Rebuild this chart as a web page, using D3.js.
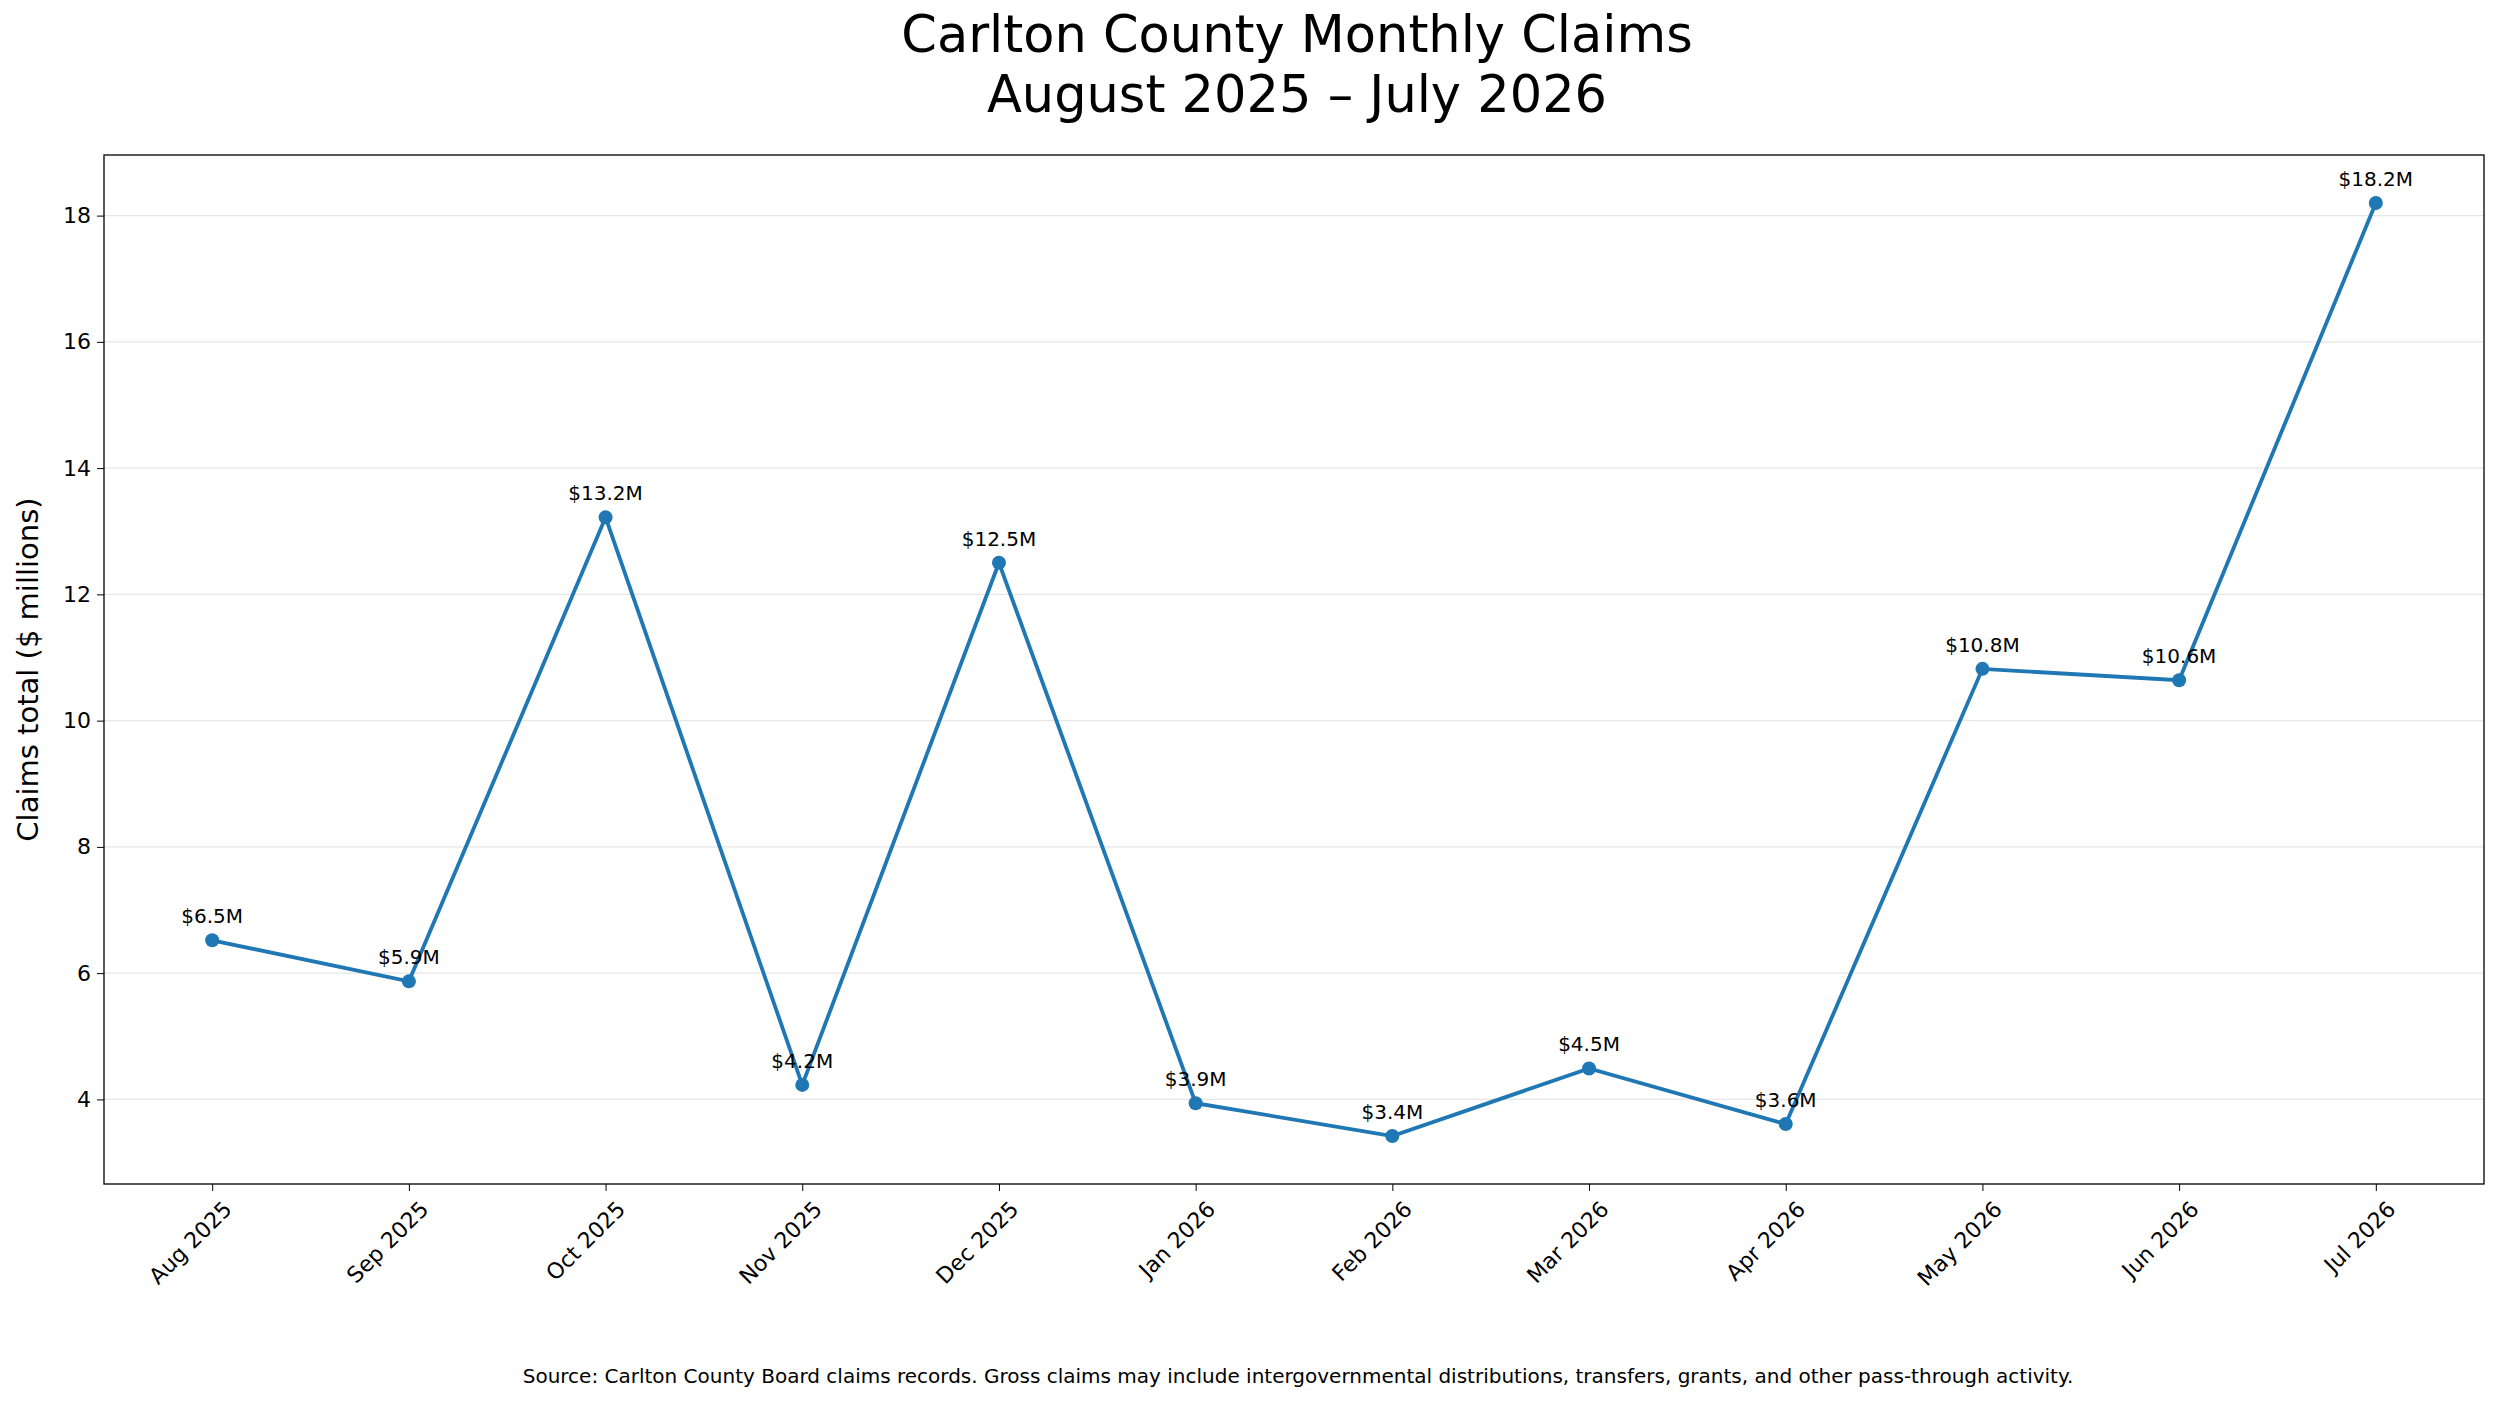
<!DOCTYPE html>
<html><head><meta charset="utf-8">
<script src="https://cdn.jsdelivr.net/npm/d3@7"></script>
<style>body{margin:0;background:#fff}text{font-family:"DejaVu Sans",sans-serif}</style>
</head><body><svg id="c" width="2500" height="1405"></svg>
<script>
const months=["Aug 2025","Sep 2025","Oct 2025","Nov 2025","Dec 2025","Jan 2026","Feb 2026","Mar 2026","Apr 2026","May 2026","Jun 2026","Jul 2026"];
const values=[6.52,5.87,13.22,4.23,12.5,3.94,3.42,4.49,3.61,10.82,10.64,18.2];
const labels=["$6.5M","$5.9M","$13.2M","$4.2M","$12.5M","$3.9M","$3.4M","$4.5M","$3.6M","$10.8M","$10.6M","$18.2M"];
const yTicks=[4,6,8,10,12,14,16,18];
const W=2500,H=1405,L=104,R=2484,T=155,B=1184;
const svg=d3.select("#c");
const x=d3.scaleLinear().domain([-0.55,11.55]).range([L,R]);
const y=d3.scaleLinear().domain([2.66,18.96]).range([B,T]);
svg.append("g").selectAll("line").data(yTicks).join("line")
 .attr("x1",L).attr("x2",R).attr("y1",d=>y(d)).attr("y2",d=>y(d)).attr("stroke","#e6e6e6").attr("stroke-width",1.3);
const ya=svg.append("g").attr("transform",`translate(${L},0)`).call(d3.axisLeft(y).tickValues(yTicks).tickSize(7).tickPadding(6));
ya.selectAll("text").attr("font-size",22).attr("font-family","DejaVu Sans").attr("fill","#000");
ya.select(".domain").remove();
const xa=svg.append("g").attr("transform",`translate(0,${B})`).call(d3.axisBottom(x).tickValues(d3.range(12)).tickFormat(i=>months[i]).tickSize(7));
xa.select(".domain").remove();
xa.selectAll("text").attr("font-size",22).attr("font-family","DejaVu Sans").attr("fill","#000")
 .attr("text-anchor","end").attr("transform","translate(8,14) rotate(-45)").attr("dy","0.35em");
svg.append("rect").attr("x",L).attr("y",T).attr("width",R-L).attr("height",B-T).attr("fill","none").attr("stroke","#000").attr("stroke-width",1.3);
svg.append("path").datum(values).attr("fill","none").attr("stroke","#1f77b4").attr("stroke-width",3.8)
 .attr("d",d3.line().x((d,i)=>x(i)).y(d=>y(d)));
svg.append("g").selectAll("circle").data(values).join("circle").attr("cx",(d,i)=>x(i)).attr("cy",d=>y(d)).attr("r",7).attr("fill","#1f77b4");
svg.append("g").selectAll("text").data(values).join("text").attr("x",(d,i)=>x(i)).attr("y",d=>y(d)-17)
 .attr("text-anchor","middle").attr("font-size",20).text((d,i)=>labels[i]);
svg.append("text").attr("x",(L+R)/2+3).attr("y",52).attr("text-anchor","middle").attr("font-size",51).text("Carlton County Monthly Claims");
svg.append("text").attr("x",(L+R)/2+3).attr("y",112).attr("text-anchor","middle").attr("font-size",51).text("August 2025 – July 2026");
svg.append("text").attr("transform",`translate(38,${(T+B)/2}) rotate(-90)`).attr("text-anchor","middle").attr("font-size",29).text("Claims total ($ millions)");
svg.append("text").attr("x",W/2+48).attr("y",1383).attr("text-anchor","middle").attr("font-size",20)
 .text("Source: Carlton County Board claims records. Gross claims may include intergovernmental distributions, transfers, grants, and other pass-through activity.");
</script></body></html>
